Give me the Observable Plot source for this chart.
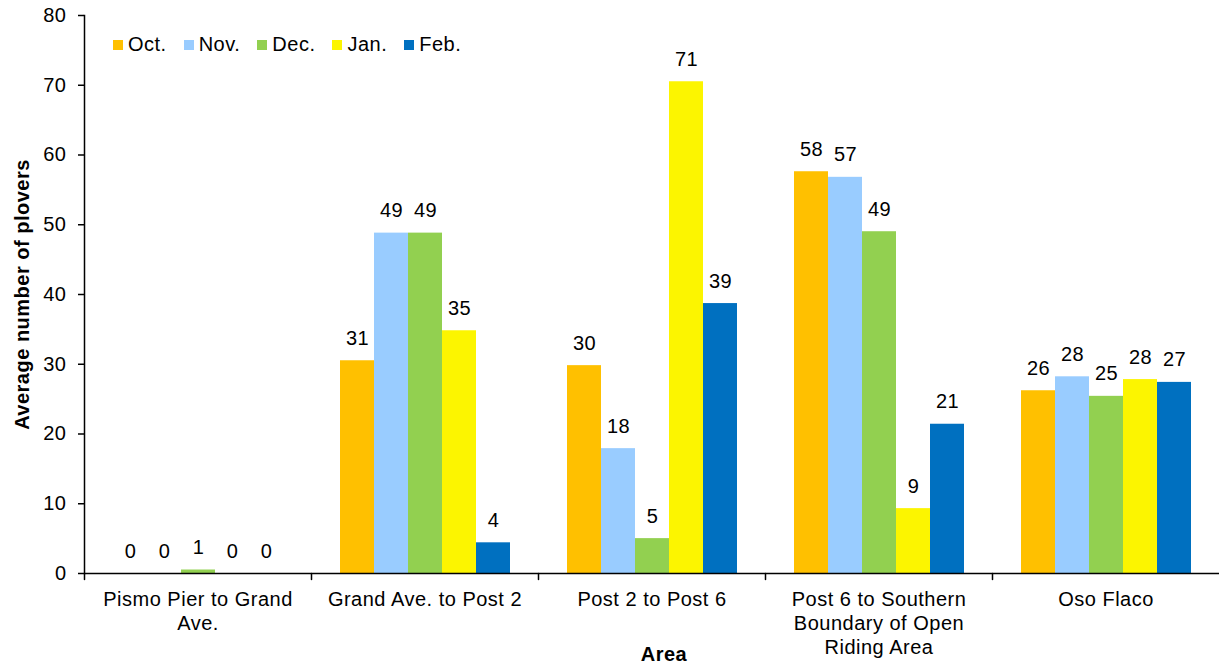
<!DOCTYPE html>
<html>
<head>
<meta charset="utf-8">
<script src="https://cdn.jsdelivr.net/npm/d3@7"></script>
<script src="https://cdn.jsdelivr.net/npm/@observablehq/plot@0.6"></script>
<style>
  body { margin: 0; background: #fff; }
  #wrap { position: relative; width: 1220px; height: 664px; font-family: "Liberation Sans", Arial, sans-serif; }
  #legend { position: absolute; left: 113px; top: 33px; display: flex; align-items: center; font-size: 20px; letter-spacing: 0.5px; color: #000; }
  #legend .item { display: flex; align-items: center; margin-right: 17px; }
  #legend .sw { width: 10px; height: 10px; margin-right: 5px; }
</style>
</head>
<body>
<div id="wrap"><div id="legend"></div></div>
<script>
const areas = ["Pismo Pier to Grand Ave.", "Grand Ave. to Post 2", "Post 2 to Post 6", "Post 6 to Southern Boundary of Open Riding Area", "Oso Flaco"];
const areaLabels = ["Pismo Pier to Grand\nAve.", "Grand Ave. to Post 2", "Post 2 to Post 6", "Post 6 to Southern\nBoundary of Open\nRiding Area", "Oso Flaco"];
const months = ["Oct.", "Nov.", "Dec.", "Jan.", "Feb."];
const colors = ["#FFC000", "#99CCFF", "#92D050", "#FCF500", "#0070C0"];
const octValues = [0, 30.5, 29.8, 57.6, 26.2];
const novValues = [0, 48.8, 17.9, 56.8, 28.2];
const decValues = [0.5, 48.8, 5.0, 49.0, 25.4];
const janValues = [0, 34.8, 70.5, 9.3, 27.8];
const febValues = [0, 4.4, 38.7, 21.4, 27.4];
const yTicks = [0, 10, 20, 30, 40, 50, 60, 70, 80];

const series = [octValues, novValues, decValues, janValues, febValues];
const data = [];
areas.forEach((a, i) => months.forEach((m, j) => data.push({area: a, month: m, value: series[j][i]})));

const tick = {draw(ctx, l) { ctx.moveTo(0, 0); ctx.lineTo(0, -l); }};

const chart = Plot.plot({
  width: 1220,
  height: 664,
  marginTop: 15,
  marginBottom: 91,
  marginLeft: 82,
  marginRight: 0,
  style: {fontFamily: "'Liberation Sans', Arial, sans-serif", fontSize: "20px", letterSpacing: "0.5px", color: "#000", background: "#fff"},
  fx: {domain: areas, padding: 0, label: null},
  x: {domain: months, paddingInner: 0, paddingOuter: 0.75, axis: null},
  y: {domain: [0, 80], label: null},
  color: {domain: months, range: colors},
  marks: [
    Plot.barY(data, {fx: "area", x: "month", y: "value", fill: "month"}),
    Plot.text(data, {fx: "area", x: "month", y: "value", text: d => String(Math.round(d.value)), lineAnchor: "bottom", dy: -16, fill: "#000"}),
    Plot.ruleY([0], {stroke: "#000", strokeWidth: 1.5}),
    Plot.frame({anchor: "left", facet: "super", stroke: "#000", strokeWidth: 1.5}),
    Plot.vector([0], {frameAnchor: "bottom-left", length: 6, rotate: 180, anchor: "start", shape: tick, stroke: "#000", strokeWidth: 1.5}),
    Plot.axisY({ticks: yTicks, tickSize: 6, tickPadding: 12, label: null, strokeWidth: 1.5}),
    Plot.axisFx({anchor: "bottom", tickSize: 0, tickPadding: 15, lineHeight: 1.2, label: null, tickFormat: d => areaLabels[areas.indexOf(d)]}),
    Plot.text(["Area"], {facet: "super", frameAnchor: "bottom", textAnchor: "middle", lineAnchor: "middle", dx: 12, dy: 81, fontWeight: "bold", letterSpacing: "0.3px"}),
    Plot.text(["Average number of plovers"], {facet: "super", frameAnchor: "left", textAnchor: "middle", lineAnchor: "middle", rotate: -90, dx: -62, fontWeight: "bold", letterSpacing: "0.2px"})
  ]
});
document.getElementById("wrap").prepend(chart);

const legend = document.getElementById("legend");
months.forEach((m, i) => {
  const item = document.createElement("div");
  item.className = "item";
  const sw = document.createElement("div");
  sw.className = "sw";
  sw.style.background = colors[i];
  const t = document.createElement("span");
  t.textContent = m;
  item.append(sw, t);
  legend.append(item);
});
</script>
</body>
</html>
